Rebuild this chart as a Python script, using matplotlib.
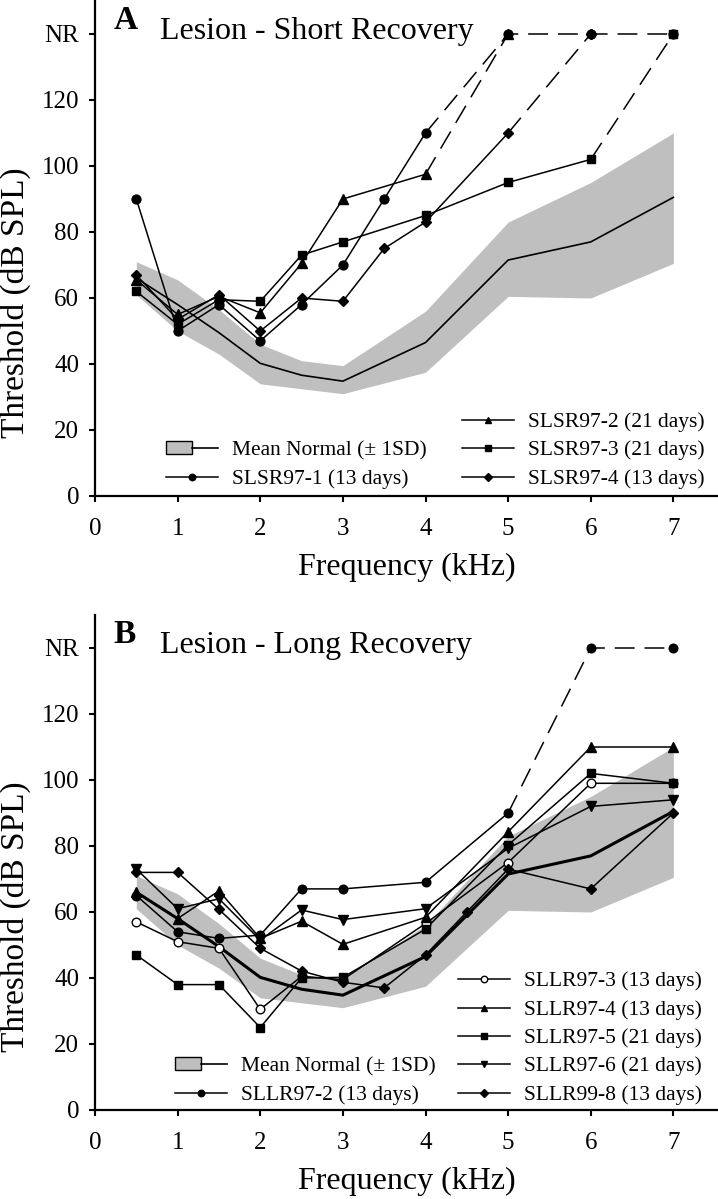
import numpy as np
import matplotlib.pyplot as plt
from matplotlib.patches import Patch
from matplotlib.lines import Line2D
from matplotlib.legend_handler import HandlerTuple

plt.rcParams['font.family'] = ['Liberation Serif', 'DejaVu Serif']

NR = 140  # "no response" plotted at top

# normal hearing (mean +- 1SD), same in both panels
norm_freq = [0.5, 1, 1.5, 2, 2.5, 3, 4, 5, 6, 7]
norm_mean = [66, 58, 49.5, 40.2, 36.6, 34.8, 46.5, 71.5, 77, 90.5]
norm_upper = [71, 65.5, 56.5, 46, 41, 39.5, 56, 83, 95, 110]
norm_lower = [61, 50, 43, 34, 32.5, 31, 37.5, 60.5, 60, 70.5]

# panel A - short recovery
sr1_freq = [0.5, 1, 1.5, 2, 2.5, 3, 3.5, 4, 5, 6, 7]
sr1_thr = [90, 50, 58, 47, 58, 70, 90, 110, NR, NR, NR]
sr2_freq = [0.5, 1, 1.5, 2, 2.5, 3, 4, 5]
sr2_thr = [65.5, 55, 60.5, 55.5, 70.5, 90, 97.5, NR]
sr3_freq = [0.5, 1, 1.5, 2, 2.5, 3, 4, 5, 6, 7]
sr3_thr = [62, 52, 59.5, 59, 73, 77, 85, 95, 102, NR]
sr4_freq = [0.5, 1, 1.5, 2, 2.5, 3, 3.5, 4, 5, 6]
sr4_thr = [67, 53.5, 61, 50, 60, 59, 75, 83, 110, NR]

# panel B - long recovery
lr_freq = [0.5, 1, 1.5, 2, 2.5, 3, 4, 5, 6, 7]
lr2_thr = [65, 54, 52, 53, 67, 67, 69, 90, NR, NR]
lr3_thr = [57, 51, 49, 30.5, 40.5, 39.5, 56.5, 75, 99, 99]
lr4_thr = [66, 58, 66.4, 52, 57.2, 50.2, 58.4, 84.3, 110, 110]
lr5_thr = [47, 38, 38, 25, 40, 40.2, 54.8, 80.3, 102, 99]
lr6_thr = [73, 61, 64, 51.5, 60.6, 57.7, 61, 79.3, 92, 94]
lr8_freq = [0.5, 1, 1.5, 2, 2.5, 3, 3.5, 4, 4.5, 5, 6, 7]
lr8_thr = [72, 72, 60.8, 49, 42.1, 38.7, 37, 47, 60, 73, 67, 90]

yticks = [0, 20, 40, 60, 80, 100, 120, NR]
ytick_labels = ['0', '20', '40', '60', '80', '100', '120', 'NR']
xticks = [0, 1, 2, 3, 4, 5, 6, 7]

W, H = 718, 1199
fig = plt.figure(figsize=(W / 100, H / 100), dpi=100)

def px_axes(x0, x1, ybot, ytop):
    return fig.add_axes([x0 / W, 1 - ybot / H, (x1 - x0) / W, (ybot - ytop) / H])

axA = px_axes(95, 718, 496, 1)
axB = px_axes(95, 718, 1110, 615)

LW = 1.1
DASH = (13, 6.5)

def draw(ax, f, t, marker, ms, face='black', z=3):
    f = np.array(f)
    t = np.array(t)
    last = np.where(t < NR)[0][-1]
    ax.plot(f[:last + 1], t[:last + 1], color='black', lw=LW, zorder=z)
    if last < len(t) - 1:
        ax.plot(f[last:], t[last:], color='black', lw=LW, dashes=DASH, zorder=z)
    ax.plot(f, t, ls='none', marker=marker, ms=ms, mfc=face, mec='black',
            mew=1, zorder=z + 0.5)

def handle(marker, ms, face='black'):
    return Line2D([], [], color='black', lw=LW, marker=marker, ms=ms * 0.75,
                  mfc=face, mec='black', mew=1)

def style(ax, panel, title):
    ax.set_xlim(0, 7.54)
    ax.set_ylim(0, 150)
    for s in ['top', 'right']:
        ax.spines[s].set_visible(False)
    for s in ['left', 'bottom']:
        ax.spines[s].set_linewidth(1.6)
    ax.set_xticks(xticks)
    ax.set_yticks(yticks)
    ax.set_yticklabels(ytick_labels)
    ax.tick_params(axis='both', direction='out', length=4.5, width=1.5, labelsize=18)
    ax.tick_params(axis='y', pad=7)
    ax.tick_params(axis='x', pad=11)
    ax.set_xlabel('Frequency (kHz)', fontsize=23)
    ax.xaxis.set_label_coords(0.5, -0.115)
    ax.set_ylabel('Threshold (dB SPL)', fontsize=24)
    ax.yaxis.set_label_coords(-0.103, 0.39)
    ax.text(0.22, 141.5, panel, fontsize=24, fontweight='bold', va='baseline')
    ax.text(0.79, 138.6, title, fontsize=23, va='baseline')

def normal_band(ax, mean_lw):
    ax.fill_between(norm_freq, norm_lower, norm_upper, color='#bfbfbf', lw=0, zorder=1)
    ax.plot(norm_freq, norm_mean, color='black', lw=mean_lw, zorder=2)

band_handle = (Patch(facecolor='#bfbfbf', edgecolor='black', lw=1.0),
               Line2D([], [], color='black', lw=1.2))

leg_kw = dict(frameon=False, fontsize=15.5, borderpad=0, borderaxespad=0,
              handlelength=2.42, handletextpad=0.65, labelspacing=0.4,
              handleheight=0.5, handler_map={tuple: HandlerTuple(ndivide=None, pad=0)})

# ---- panel A
normal_band(axA, 1.2)
draw(axA, sr2_freq, sr2_thr, '^', 6.5)
draw(axA, sr4_freq, sr4_thr, 'D', 5.5)
draw(axA, sr1_freq, sr1_thr, 'o', 6.4)
draw(axA, sr3_freq, sr3_thr, 's', 6)
style(axA, 'A', 'Lesion - Short Recovery')

legA1 = axA.legend([band_handle, handle('o', 6.2)],
                   ['Mean Normal (\u00b1 1SD)', 'SLSR97-1 (13 days)'],
                   loc='lower left', bbox_to_anchor=(0.114, 0.015), **leg_kw)
axA.add_artist(legA1)
axA.legend([handle('^', 6.5), handle('s', 6), handle('D', 5.5)],
           ['SLSR97-2 (21 days)', 'SLSR97-3 (21 days)', 'SLSR97-4 (13 days)'],
           loc='lower left', bbox_to_anchor=(0.589, 0.015), **leg_kw)

# ---- panel B
normal_band(axB, 2.2)
draw(axB, lr_freq, lr3_thr, 'o', 6.2, face='white')
draw(axB, lr_freq, lr5_thr, 's', 6)
draw(axB, lr_freq, lr6_thr, 'v', 6.5)
draw(axB, lr_freq, lr4_thr, '^', 6.5)
draw(axB, lr8_freq, lr8_thr, 'D', 5.5)
draw(axB, lr_freq, lr2_thr, 'o', 6.2)
style(axB, 'B', 'Lesion - Long Recovery')

legB1 = axB.legend([band_handle, handle('o', 6.2)],
                   ['Mean Normal (\u00b1 1SD)', 'SLLR97-2 (13 days)'],
                   loc='lower left', bbox_to_anchor=(0.128, 0.011), **leg_kw)
axB.add_artist(legB1)
axB.legend([handle('o', 6.2, 'white'), handle('^', 6.5), handle('s', 6),
            handle('v', 6.5), handle('D', 5.5)],
           ['SLLR97-3 (13 days)', 'SLLR97-4 (13 days)', 'SLLR97-5 (21 days)',
            'SLLR97-6 (21 days)', 'SLLR99-8 (13 days)'],
           loc='lower left', bbox_to_anchor=(0.583, 0.011), **leg_kw)

fig.savefig('out.png', dpi=100)
